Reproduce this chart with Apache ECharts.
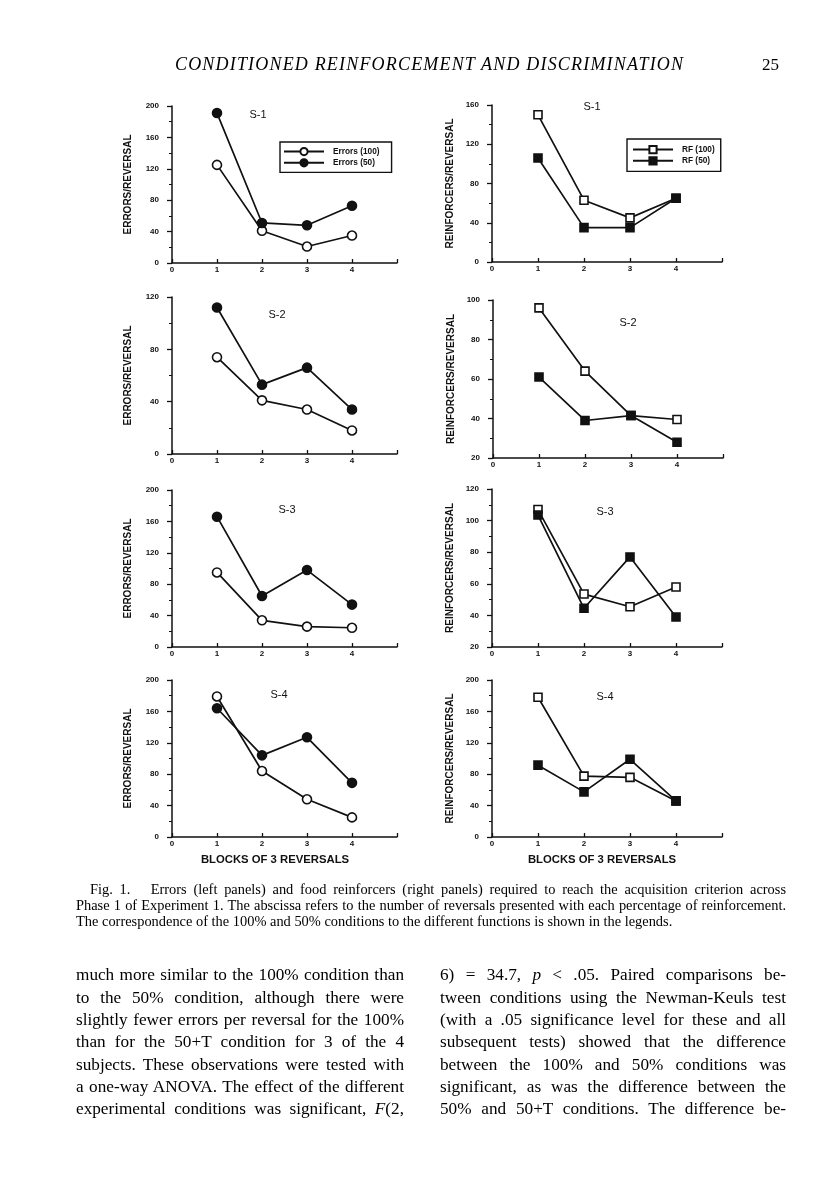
<!DOCTYPE html>
<html>
<head>
<meta charset="utf-8">
<script src="https://cdn.jsdelivr.net/npm/echarts@6/dist/echarts.min.js"></script>
<style>
html,body{margin:0;padding:0;background:#fff;}
#chart{position:absolute;left:0;top:0;width:816px;height:1200px;}
.t{position:absolute;color:#000;font-family:"Liberation Serif","Times New Roman",serif;white-space:nowrap;line-height:1;}
</style>
</head>
<body>
<div id="chart"></div>
<script>
// ---------------- data ----------------
const blocks = [1, 2, 3, 4];
const xTickLabels = ['0', '1', '2', '3', '4', ''];

const s1Errors100 = [125, 41, 21, 35];
const s1Errors50  = [191, 51, 48, 73];
const s1RF100     = [150, 63, 45, 65];
const s1RF50      = [106, 35, 35, 65];

const s2Errors100 = [74, 41, 34, 18];
const s2Errors50  = [112, 53, 66, 34];
const s2RF100     = [96, 64, 41.5, 39.5];
const s2RF50      = [61, 39, 41.5, 28];

const s3Errors100 = [95, 34, 26, 24.5];
const s3Errors50  = [166, 65, 98, 54];
const s3RF100     = [107, 53.5, 45.5, 58];
const s3RF50      = [103.5, 44.5, 77, 39];

const s4Errors100 = [179, 84, 48, 25];
const s4Errors50  = [164, 104, 127, 69];
const s4RF100     = [178, 77.5, 76, 46];
const s4RF50      = [91.5, 57.5, 99, 46];

const subjects = ['S-1', 'S-2', 'S-3', 'S-4'];
const errorsName = 'ERRORS/REVERSAL';
const rfName = 'REINFORCERS/REVERSAL';
const xName = 'BLOCKS OF 3 REVERSALS';
const legendErrors = ['Errors (100)', 'Errors (50)'];
const legendRF = ['RF (100)', 'RF (50)'];

const headerText = 'CONDITIONED REINFORCEMENT AND DISCRIMINATION';
const pageNumber = '25';
const captionLines = [
  'Fig. 1.\u00a0\u00a0 Errors (left panels) and food reinforcers (right panels) required to reach the acquisition criterion across',
  'Phase 1 of Experiment 1. The abscissa refers to the number of reversals presented with each percentage of reinforcement.',
  'The correspondence of the 100% and 50% conditions to the different functions is shown in the legends.'
];
const bodyLeft = [
  'much more similar to the 100% condition than',
  'to the 50% condition, although there were',
  'slightly fewer errors per reversal for the 100%',
  'than for the 50+T condition for 3 of the 4',
  'subjects. These observations were tested with',
  'a one-way ANOVA. The effect of the different',
  'experimental conditions was significant, <i>F</i>(2,'
];
const bodyRight = [
  '6) = 34.7, <i>p</i> &lt; .05. Paired comparisons be-',
  'tween conditions using the Newman-Keuls test',
  '(with a .05 significance level for these and all',
  'subsequent tests) showed that the difference',
  'between the 100% and 50% conditions was',
  'significant, as was the difference between the',
  '50% and 50+T conditions. The difference be-'
];

// ---------------- layout ----------------
const INK = '#111';
const SANS = '"Liberation Sans", Arial, Helvetica, sans-serif';
const panels = [
  {left:172, top:106, w:225, h:157, yMin:0, yMax:200, yInt:40, kind:'E', a:s1Errors100, b:s1Errors50, title:subjects[0], tx:258, ty:115, legend:{left:280, top:142, pad:[5,12,5,3]}},
  {left:492, top:105, w:230, h:157, yMin:0, yMax:160, yInt:40, kind:'R', a:s1RF100, b:s1RF50, title:subjects[0], tx:592, ty:107, legend:{left:627, top:139, pad:[6,6,6,5]}},
  {left:172, top:297, w:225, h:157, yMin:0, yMax:120, yInt:40, kind:'E', a:s2Errors100, b:s2Errors50, title:subjects[1], tx:277, ty:315},
  {left:493, top:300, w:230, h:158, yMin:20, yMax:100, yInt:20, kind:'R', a:s2RF100, b:s2RF50, title:subjects[1], tx:628, ty:323},
  {left:172, top:490, w:225, h:157, yMin:0, yMax:200, yInt:40, kind:'E', a:s3Errors100, b:s3Errors50, title:subjects[2], tx:287, ty:510},
  {left:492, top:489, w:230, h:158, yMin:20, yMax:120, yInt:20, kind:'R', a:s3RF100, b:s3RF50, title:subjects[2], tx:605, ty:512},
  {left:172, top:680, w:225, h:157, yMin:0, yMax:200, yInt:40, kind:'E', a:s4Errors100, b:s4Errors50, title:subjects[3], tx:279, ty:695},
  {left:492, top:680, w:230, h:157, yMin:0, yMax:200, yInt:40, kind:'R', a:s4RF100, b:s4RF50, title:subjects[3], tx:605, ty:697}
];

const grid = [], xAxis = [], yAxis = [], series = [], legend = [], graphic = [];
panels.forEach((p, i) => {
  grid.push({left:p.left, top:p.top, width:p.w, height:p.h});
  xAxis.push({
    type:'value', gridIndex:i, min:0, max:5, interval:1,
    axisLine:{show:true, onZero:false, lineStyle:{color:INK, width:1.5}},
    axisTick:{show:true, inside:true, length:4, lineStyle:{color:INK, width:1.3}},
    axisLabel:{color:INK, fontFamily:SANS, fontWeight:'bold', fontSize:8, margin:3,
      formatter:v => xTickLabels[Math.round(v)]},
    splitLine:{show:false}
  });
  const isE = p.kind === 'E';
  yAxis.push({
    type:'value', gridIndex:i, min:p.yMin, max:p.yMax, interval:p.yInt,
    name: isE ? errorsName : rfName, nameLocation:'middle', nameGap: isE ? 39 : 37,
    nameTextStyle:{color:INK, fontFamily:SANS, fontWeight:'bold', fontSize:10},
    axisLine:{show:true, lineStyle:{color:INK, width:1.5}},
    axisTick:{show:true, inside:false, length:5, lineStyle:{color:INK, width:1.3}},
    minorTick:{show:true, splitNumber:2, length:3, lineStyle:{color:INK, width:1}},
    axisLabel:{color:INK, fontFamily:SANS, fontWeight:'bold', fontSize:8, margin:13},
    splitLine:{show:false}
  });
  const names = isE ? legendErrors : legendRF;
  const sym = isE ? 'circle' : 'rect';
  const size = isE ? 9 : 8;
  [[names[0], p.a, '#fff'], [names[1], p.b, INK]].forEach(([nm, arr, fill]) => {
    series.push({
      type:'line', name:nm, xAxisIndex:i, yAxisIndex:i,
      data: blocks.map((bk, k) => [bk, arr[k]]),
      symbol:sym, symbolSize:size, showAllSymbol:true,
      lineStyle:{color:INK, width:1.7},
      itemStyle:{color:fill, borderColor:INK, borderWidth:1.6},
      emphasis:{disabled:true}, silent:true
    });
  });
  if (p.legend) {
    legend.push({
      data:names, orient:'vertical', left:p.legend.left, top:p.legend.top,
      padding:p.legend.pad, itemGap:2, itemWidth:40, itemHeight:9,
      borderColor:INK, borderWidth:1.4, borderRadius:0, selectedMode:false,
      textStyle:{color:INK, fontFamily:SANS, fontWeight:'bold', fontSize:8.3, padding:[0,0,0,4]}
    });
  }
  graphic.push({type:'text', x:p.tx, y:p.ty, silent:true,
    style:{text:p.title, fill:INK, font:'11px ' + SANS, align:'center', verticalAlign:'middle'}});
});
graphic.push({type:'text', x:275, y:860, silent:true,
  style:{text:xName, fill:INK, font:'bold 11.3px ' + SANS, align:'center', verticalAlign:'middle'}});
graphic.push({type:'text', x:602, y:860, silent:true,
  style:{text:xName, fill:INK, font:'bold 11.3px ' + SANS, align:'center', verticalAlign:'middle'}});

const chart = echarts.init(document.getElementById('chart'), null, {renderer:'canvas'});
chart.setOption({animation:false, backgroundColor:'#fff', grid, xAxis, yAxis, series, legend, graphic});

// ---------------- page text ----------------
function addLine(html, x, yc, width, font, mode) {
  const d = document.createElement('div');
  d.className = 't';
  d.style.left = x + 'px';
  d.style.font = font;
  d.style.lineHeight = '1';
  d.innerHTML = html;
  document.body.appendChild(d);
  const r = d.getBoundingClientRect();
  d.style.top = (yc - r.height / 2) + 'px';
  const nat = r.width;
  const n = d.textContent.length;
  if (mode === 'justify') {
    if (nat < width) {
      d.style.whiteSpace = 'normal';
      d.style.width = width + 'px';
      d.style.textAlign = 'justify';
      d.style.textAlignLast = 'justify';
    } else {
      d.style.letterSpacing = ((width - nat) / n) + 'px';
    }
  } else if (mode === 'spread') {
    d.style.letterSpacing = ((width - nat) / (n - 1)) + 'px';
  }
  return d;
}
function measureHTML(html, font) {
  const d = document.createElement('div');
  d.className = 't';
  d.style.font = font;
  d.innerHTML = html;
  document.body.appendChild(d);
  const w = d.getBoundingClientRect().width;
  d.remove();
  return w;
}
const SERIF = '"Liberation Serif", "Times New Roman", serif';

addLine(headerText, 175, 64, 508, 'italic 18px ' + SERIF, 'spread');
addLine(pageNumber, 762, 64, 0, '17px ' + SERIF, 'none');

// caption: size so the second line nearly fills its width
const capBase = 12;
const capSize = capBase * 700 / measureHTML(captionLines[1], capBase + 'px ' + SERIF);
const capFont = capSize.toFixed(2) + 'px ' + SERIF;
addLine(captionLines[0], 90, 889, 696, capFont, 'justify');
addLine(captionLines[1], 76, 905, 710, capFont, 'justify');
addLine(captionLines[2], 76, 921, 0, capFont, 'none');

// body columns
const colW = 328;
let maxNat = 0;
bodyLeft.concat(bodyRight).forEach(s => { maxNat = Math.max(maxNat, measureHTML(s, '17px ' + SERIF)); });
const bodySize = 17 * (colW * 0.99) / maxNat;
const bodyFont = bodySize.toFixed(2) + 'px ' + SERIF;
bodyLeft.forEach((s, i) => addLine(s, 76, 975 + 22.3 * i, colW, bodyFont, 'justify'));
bodyRight.forEach((s, i) => addLine(s, 440, 975 + 22.3 * i, 346, bodyFont, 'justify'));
</script>
</body>
</html>
